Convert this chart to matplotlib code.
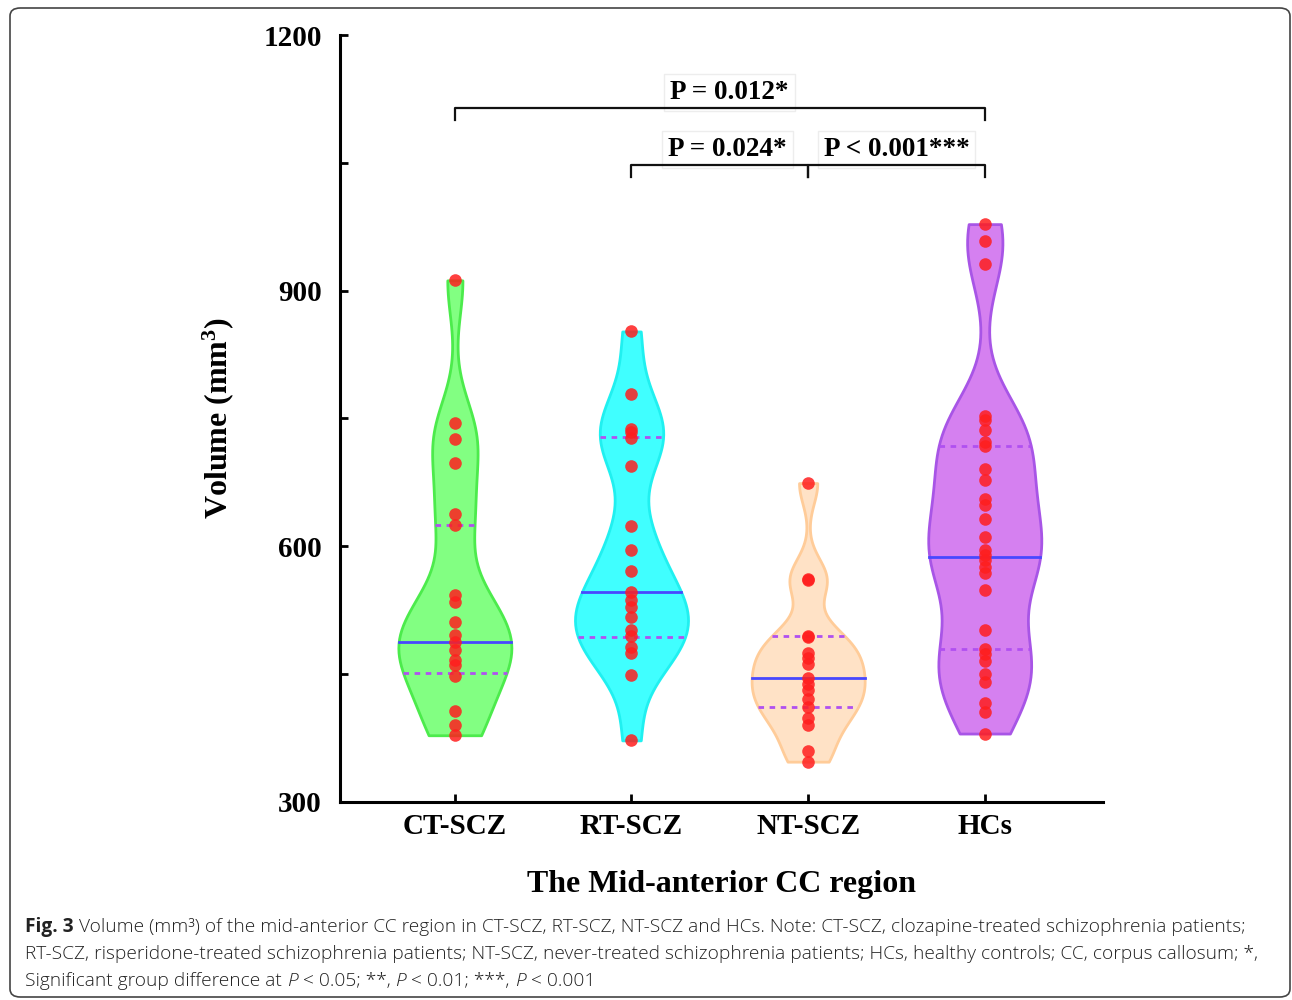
import matplotlib.pyplot as plt
import numpy as np
from matplotlib import font_manager
from matplotlib.patches import FancyBboxPatch

groups = ['CT-SCZ', 'RT-SCZ', 'NT-SCZ', 'HCs']
ct_scz = [912, 745, 726, 698, 638, 625, 543, 535, 511, 496, 487, 478, 466, 460, 447, 406, 390, 378]
rt_scz = [852, 779, 738, 734, 727, 694, 624, 595, 571, 546, 537, 529, 517, 501, 494, 482, 474, 449, 372]
nt_scz = [674, 562, 560, 495, 493, 475, 469, 462, 445, 438, 431, 421, 411, 398, 390, 359, 347]
hcs = [978, 958, 931, 753, 748, 736, 722, 717, 690, 678, 655, 648, 632, 611, 595, 590, 584, 576,
       568, 549, 502, 479, 473, 465, 450, 440, 416, 405, 380]
medians = [487, 546, 445, 587]
q1 = [451, 493, 411, 479]
q3 = [625, 728, 495, 718]

# pairwise comparisons: (group a, group b, bracket level, label x, label)
comparisons = [(0, 3, 1114, 1.556, 'P = 0.012*'),
               (1, 2, 1047, 1.545, 'P = 0.024*'),
               (2, 3, 1047, 2.5, 'P < 0.001***')]

fill_colors = ['#82FF82', '#40FFFF', '#FFE2C6', '#D580F0']
edge_colors = ['#4CEB4C', '#20F0F0', '#FFCC99', '#A855E6']

serif = 'Liberation Serif'
plt.rcParams['mathtext.fontset'] = 'custom'
plt.rcParams['mathtext.rm'] = 'Liberation Serif:bold'
plt.rcParams['mathtext.it'] = 'Liberation Serif:bold'
plt.rcParams['mathtext.bf'] = 'Liberation Serif:bold'
cap_font = 'Open Sans'

fig = plt.figure(figsize=(12.92, 10), dpi=100)
ax = fig.add_axes([0.2632, 0.1983, 0.5906, 0.7667])

data = [ct_scz, rt_scz, nt_scz, hcs]
pos = np.arange(len(groups))
vp = ax.violinplot(data, positions=pos, widths=0.64, showextrema=False, bw_method=0.3)
for body, fc, ec in zip(vp['bodies'], fill_colors, edge_colors):
    body.set_facecolor(fc)
    body.set_edgecolor(ec)
    body.set_alpha(1)
    body.set_linewidth(2)


def half_width(body, p, y):
    v = body.get_paths()[0].vertices
    right = v[v[:, 0] > p]
    order = np.argsort(right[:, 1])
    return np.interp(y, right[order, 1], right[order, 0]) - p


for i, body in enumerate(vp['bodies']):
    for val, ls, col in [(q1[i], (0, (2, 2)), '#B050F0'), (q3[i], (0, (2, 2)), '#B050F0'),
                         (medians[i], '-', '#4848FF')]:
        hw = half_width(body, i, val)
        ax.plot([i - hw, i + hw], [val, val], color=col, lw=2, ls=ls, zorder=2)
    ax.scatter(np.full(len(data[i]), i), data[i], s=82, color='#FF1E1E', alpha=0.85,
               lw=0, zorder=3)

for a, b, lvl, lx, lab in comparisons:
    ax.plot([a, a, b, b], [lvl - 14, lvl, lvl, lvl - 14], color='#111111', lw=1.6,
            zorder=2, clip_on=False)
    ax.text(lx, lvl + 19, lab, ha='center', va='center',
            fontsize=19.5, fontweight='bold', family=serif, zorder=1.5,
            bbox=dict(boxstyle='square,pad=0.22', fc='white', ec='#EDEDED', lw=1))

ax.set_xlim(-0.65, 3.67)
ax.set_ylim(300, 1200)
ax.set_xticks(pos)
ax.set_xticklabels(groups, fontsize=21, fontweight='bold', family=serif)
ax.set_yticks([300, 600, 900, 1200])
ax.set_yticks([450, 750, 1050], minor=True)
ax.set_yticklabels(['300', '600', '900', '1200'], fontsize=21, fontweight='bold', family=serif)
ax.tick_params(axis='both', which='both', direction='in', length=6, width=2)
ax.tick_params(axis='y', pad=13)
ax.tick_params(axis='x', pad=8)
for s in ['top', 'right']:
    ax.spines[s].set_visible(False)
for s in ['left', 'bottom']:
    ax.spines[s].set_linewidth(2.2)

ax.set_xlabel('The Mid-anterior CC region', fontsize=23, fontweight='bold', family=serif,
              labelpad=22)
ax.set_ylabel('Volume (mm$^{3}$)', fontsize=23, fontweight='bold', family=serif, labelpad=20)

# caption
caption = [
    [('Fig. 3', 'bold'), (' Volume (mm³) of the mid-anterior CC region in CT-SCZ, RT-SCZ, NT-SCZ and HCs. '
                          'Note: CT-SCZ, clozapine-treated schizophrenia patients;', 'normal')],
    [('RT-SCZ, risperidone-treated schizophrenia patients; NT-SCZ, never-treated schizophrenia '
      'patients; HCs, healthy controls; CC, corpus callosum; *,', 'normal')],
    [('Significant group difference at ', 'normal'), ('P', 'italic'), (' < 0.05; **, ', 'normal'),
     ('P', 'italic'), (' < 0.01; ***, ', 'normal'), ('P', 'italic'), (' < 0.001', 'normal')],
]
renderer = fig.canvas.get_renderer()


def put_line(segs, y, size):
    x = 25 / 1292
    made = []
    for txt, style in segs:
        t = fig.text(x, y, txt, fontsize=size, family=cap_font, color='#222222', va='center',
                     fontweight='bold' if style == 'bold' else 'light',
                     fontstyle='italic' if style == 'italic' else 'normal')
        x += t.get_window_extent(renderer).width / fig.bbox.width
        made.append(t)
    return made, x


widest = 0
for segs in caption:
    made, end = put_line(segs, 0.073, 12)
    widest = max(widest, end - 25 / 1292)
    for t in made:
        t.remove()
size = 12 * (1258 / 1292 - 25 / 1292) / widest
for k, segs in enumerate(caption):
    put_line(segs, 0.073 - k * 0.027, size)

fig.patches.append(FancyBboxPatch((10 / 1292, 0.003), 1280 / 1292, 0.989,
                                  boxstyle='round,pad=0,rounding_size=0.008',
                                  transform=fig.transFigure, fill=False, ec='#444444', lw=1.2))

fig.savefig('out.png', dpi=100, facecolor='white')
